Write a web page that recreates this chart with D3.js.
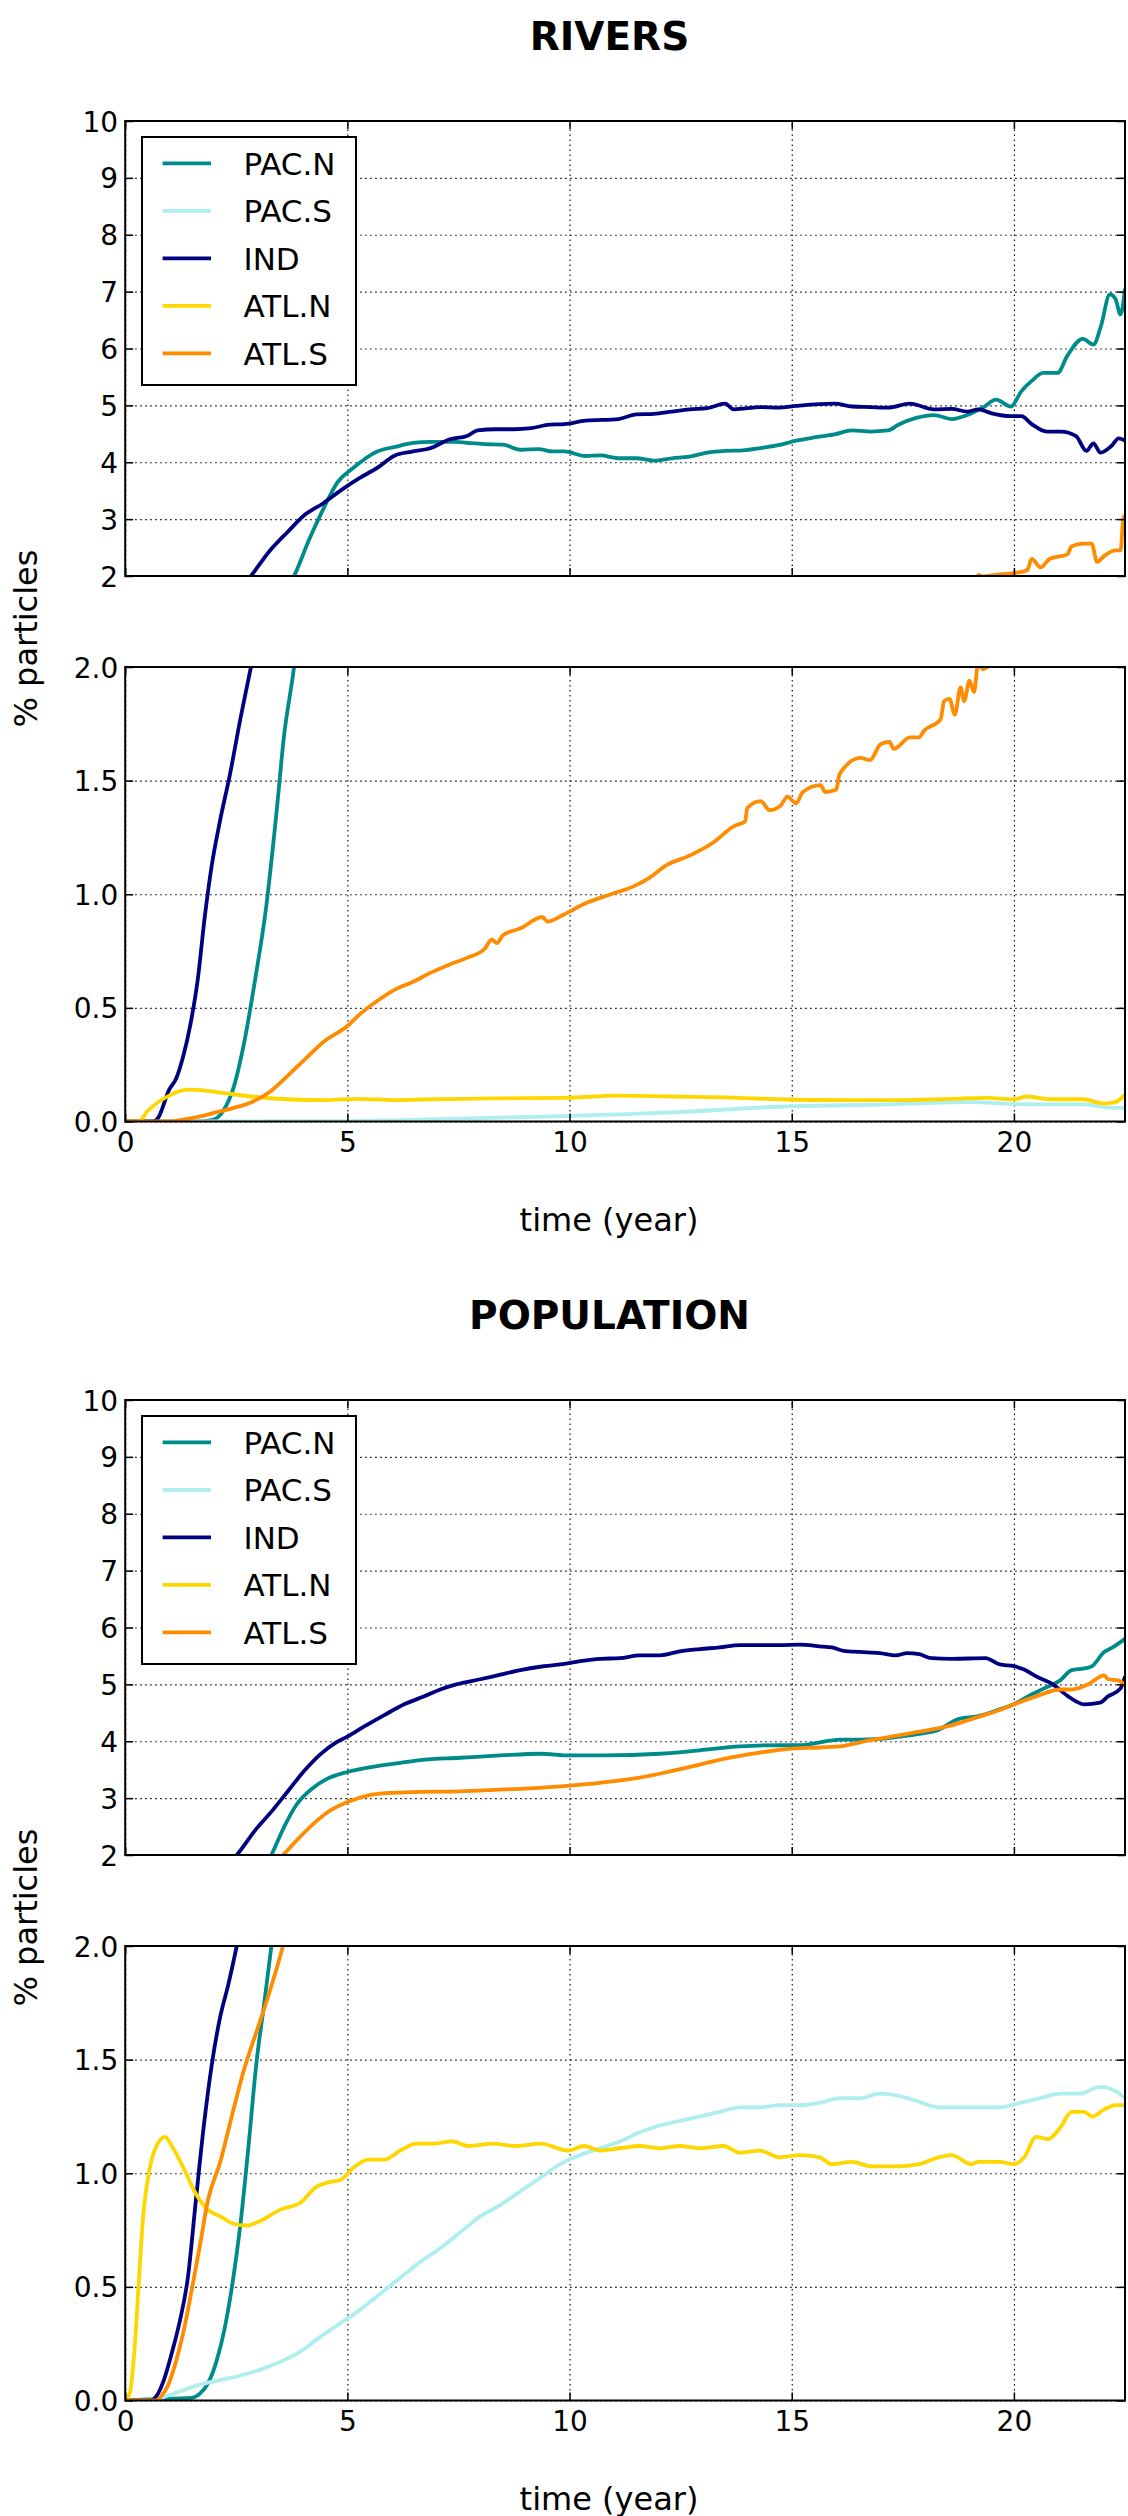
<!DOCTYPE html>
<meta charset="utf-8">
<head>
<style>
body { margin: 0; background: #fff; }
svg { display: block; font-family: "DejaVu Sans", sans-serif; }
.grid line { stroke: #000; stroke-width: 1.1; stroke-dasharray: 1.5,3.5; }
.grid path, .ticks path { display: none; }
.ticks line { stroke: #000; stroke-width: 1.5; }
.ticks text { font-size: 28px; fill: #000; font-family: "DejaVu Sans", sans-serif; }
</style>
</head>
<body>
<svg width="1128" height="2516"></svg>

<script src="https://d3js.org/d3.v7.min.js"></script>
<script>
// series: [time (year), % particles]
var seriesNames = ["PAC.N", "PAC.S", "IND", "ATL.N", "ATL.S"];
var xTicks = [0, 5, 10, 15, 20];
var upperTicks = [2, 3, 4, 5, 6, 7, 8, 9, 10];
var lowerTicks = [0, 0.5, 1.0, 1.5, 2.0];

var riversPacN = [[0,0],[1.6,0],[1.95,0.006],[2.2,0.045],[2.44,0.15],[2.68,0.35],[2.92,0.62],[3.17,0.94],[3.41,1.37],[3.57,1.69],[3.8,2.0],[4.14,2.64],[4.46,3.18],[4.78,3.65],[5.1,3.88],[5.67,4.19],[6.07,4.27],[6.48,4.34],[6.88,4.36],[7.45,4.36],[7.69,4.34],[8.09,4.32],[8.5,4.31],[8.9,4.22],[9.3,4.23],[9.63,4.19],[9.88,4.19],[10.36,4.11],[10.7,4.12],[11.1,4.07],[11.5,4.07],[11.9,4.03],[12.3,4.07],[12.7,4.1],[13.1,4.17],[13.5,4.2],[13.9,4.21],[14.3,4.25],[14.7,4.3],[15.1,4.38],[15.55,4.44],[15.96,4.49],[16.36,4.56],[16.77,4.54],[17.17,4.56],[17.4,4.66],[17.8,4.78],[18.2,4.83],[18.6,4.76],[18.95,4.83],[19.3,4.96],[19.6,5.1],[19.93,4.98],[20.17,5.25],[20.4,5.43],[20.66,5.57],[20.98,5.57],[21.2,5.87],[21.55,6.17],[21.79,6.07],[21.95,6.37],[22.16,6.95],[22.28,6.88],[22.4,6.6],[22.5,7.05]];
var riversPacS = [[0,0],[5,0.002],[7.5,0.012],[9.86,0.024],[12.3,0.04],[14.7,0.065],[17.2,0.075],[19.0,0.085],[20.4,0.075],[21.55,0.075],[22.2,0.06],[22.5,0.06]];
var riversInd = [[0,0],[0.62,0],[0.74,0.016],[0.99,0.14],[1.15,0.19],[1.31,0.29],[1.47,0.43],[1.63,0.62],[1.79,0.9],[1.95,1.13],[2.12,1.31],[2.36,1.53],[2.6,1.78],[2.83,2.0],[3.25,2.44],[3.65,2.77],[4.05,3.08],[4.46,3.28],[4.86,3.51],[5.27,3.72],[5.67,3.9],[6.07,4.12],[6.48,4.19],[6.88,4.25],[7.29,4.4],[7.69,4.46],[7.93,4.56],[8.33,4.58],[8.74,4.58],[9.14,4.6],[9.55,4.66],[9.88,4.67],[10.36,4.73],[11.1,4.76],[11.5,4.84],[11.9,4.85],[12.3,4.89],[12.7,4.93],[13.1,4.95],[13.5,5.03],[13.7,4.93],[14.3,4.97],[14.7,4.96],[15.1,4.99],[15.96,5.03],[16.36,4.98],[16.77,4.97],[17.17,4.96],[17.66,5.03],[18.2,4.93],[18.6,4.94],[18.95,4.89],[19.2,4.93],[19.5,4.86],[19.93,4.81],[20.17,4.81],[20.4,4.67],[20.74,4.54],[21.06,4.54],[21.4,4.46],[21.63,4.2],[21.79,4.33],[21.95,4.17],[22.2,4.29],[22.36,4.42],[22.5,4.38]];
var riversAtlN = [[0,0],[0.3,0],[0.5,0.045],[0.74,0.085],[0.99,0.114],[1.23,0.134],[1.47,0.14],[1.87,0.134],[2.28,0.124],[2.84,0.11],[3.65,0.098],[4.46,0.094],[5.27,0.1],[6.07,0.094],[6.88,0.098],[7.69,0.1],[8.5,0.102],[9.86,0.104],[11.1,0.114],[12.3,0.11],[13.5,0.106],[14.7,0.098],[16.2,0.094],[17.2,0.094],[18.6,0.1],[19.4,0.104],[20.0,0.098],[20.3,0.11],[20.8,0.098],[21.55,0.098],[22.03,0.079],[22.28,0.085],[22.5,0.118]];
var riversAtlS = [[0,0],[1.0,0],[1.23,0.006],[1.63,0.02],[2.04,0.04],[2.44,0.06],[2.84,0.085],[3.25,0.13],[3.65,0.2],[4.05,0.275],[4.46,0.35],[5.0,0.42],[5.27,0.47],[5.67,0.53],[6.07,0.58],[6.48,0.615],[6.88,0.655],[7.29,0.69],[7.69,0.72],[8.09,0.76],[8.25,0.8],[8.37,0.785],[8.5,0.82],[8.9,0.85],[9.39,0.9],[9.5,0.88],[9.86,0.91],[10.36,0.96],[10.93,1.0],[11.5,1.04],[11.78,1.07],[12.2,1.13],[12.7,1.17],[13.25,1.23],[13.7,1.3],[13.95,1.32],[14.0,1.38],[14.3,1.41],[14.5,1.37],[14.75,1.39],[14.9,1.43],[15.1,1.4],[15.25,1.45],[15.65,1.48],[15.75,1.45],[16.0,1.46],[16.08,1.53],[16.55,1.6],[16.76,1.59],[17.0,1.66],[17.2,1.67],[17.3,1.64],[17.66,1.69],[17.86,1.69],[17.98,1.72],[18.35,1.77],[18.43,1.85],[18.55,1.86],[18.67,1.79],[18.8,1.91],[18.88,1.85],[19.0,1.94],[19.1,1.89],[19.2,2.02],[19.3,1.99],[19.4,2.0],[19.6,2.02],[20.0,2.05],[20.3,2.1],[20.4,2.3],[20.6,2.15],[20.8,2.3],[21.2,2.38],[21.3,2.52],[21.55,2.57],[21.75,2.57],[21.87,2.25],[22.03,2.35],[22.28,2.45],[22.4,2.45],[22.47,3.05],[22.5,3.05]];

var popPacN = [[0,0],[0.5,0.005],[1.5,0.012],[1.68,0.03],[1.86,0.074],[2.05,0.17],[2.23,0.31],[2.41,0.51],[2.59,0.77],[2.77,1.11],[2.95,1.48],[3.13,1.75],[3.29,2.0],[3.58,2.5],[3.85,2.88],[4.21,3.17],[4.52,3.33],[5.0,3.46],[5.56,3.55],[6.19,3.62],[6.64,3.67],[7.54,3.71],[8.44,3.75],[9.34,3.78],[10.0,3.75],[10.77,3.75],[12.03,3.78],[12.93,3.84],[13.83,3.91],[14.73,3.93],[15.18,3.93],[15.63,3.98],[16.08,4.03],[16.53,4.03],[16.98,4.04],[17.42,4.08],[17.87,4.13],[18.3,4.2],[18.75,4.39],[19.2,4.44],[19.68,4.56],[20.0,4.65],[20.32,4.79],[20.68,4.93],[21.04,5.07],[21.3,5.25],[21.58,5.28],[21.76,5.32],[22.03,5.57],[22.2,5.64],[22.5,5.8]];
var popPacS = [[0,0],[0.6,0],[0.78,0.01],[1.23,0.04],[1.68,0.07],[2.14,0.09],[2.59,0.11],[3.04,0.136],[3.49,0.17],[3.94,0.215],[4.39,0.28],[4.84,0.34],[5.29,0.4],[5.74,0.47],[6.19,0.54],[6.64,0.61],[7.09,0.67],[7.54,0.74],[7.99,0.81],[8.44,0.86],[8.89,0.92],[9.34,0.98],[9.79,1.04],[10.24,1.08],[10.69,1.11],[11.13,1.14],[11.58,1.18],[12.03,1.21],[12.48,1.23],[12.93,1.25],[13.38,1.27],[13.83,1.29],[14.28,1.29],[14.73,1.3],[15.18,1.3],[15.63,1.31],[16.08,1.33],[16.53,1.33],[16.98,1.35],[17.42,1.34],[17.78,1.32],[18.3,1.29],[18.75,1.29],[19.2,1.29],[19.68,1.29],[20.14,1.31],[20.59,1.33],[21.04,1.35],[21.49,1.35],[21.94,1.38],[22.3,1.36],[22.5,1.33]];
var popInd = [[0,0],[0.56,0],[0.69,0.016],[0.87,0.09],[1.05,0.21],[1.23,0.35],[1.41,0.54],[1.59,0.88],[1.77,1.21],[1.95,1.48],[2.14,1.69],[2.32,1.83],[2.51,2.0],[2.95,2.46],[3.31,2.78],[3.67,3.13],[4.03,3.48],[4.39,3.77],[4.75,3.98],[5.0,4.08],[5.38,4.26],[5.83,4.46],[6.28,4.65],[6.73,4.79],[7.09,4.91],[7.45,5.0],[7.99,5.09],[8.44,5.17],[8.89,5.25],[9.34,5.31],[9.79,5.35],[10.24,5.41],[10.69,5.45],[11.13,5.46],[11.58,5.51],[12.03,5.51],[12.48,5.58],[12.93,5.62],[13.38,5.65],[13.83,5.69],[14.28,5.69],[14.73,5.69],[15.18,5.7],[15.63,5.67],[15.9,5.65],[16.17,5.59],[16.53,5.57],[16.98,5.55],[17.34,5.51],[17.6,5.55],[17.87,5.53],[18.15,5.46],[18.6,5.45],[19.36,5.46],[19.68,5.35],[20.0,5.32],[20.23,5.26],[20.5,5.14],[20.86,5.01],[21.22,4.79],[21.58,4.65],[21.94,4.68],[22.12,4.79],[22.4,4.93],[22.5,5.14]];
var popAtlN = [[0,0],[0.1,0.03],[0.2,0.2],[0.3,0.5],[0.4,0.8],[0.55,1.02],[0.68,1.11],[0.9,1.16],[1.05,1.12],[1.32,1.02],[1.59,0.91],[1.86,0.84],[2.14,0.81],[2.41,0.78],[2.72,0.77],[3.04,0.79],[3.49,0.84],[3.94,0.87],[4.3,0.94],[4.57,0.96],[4.84,0.97],[5.11,1.02],[5.47,1.06],[5.83,1.06],[6.19,1.1],[6.55,1.13],[6.91,1.13],[7.36,1.14],[7.72,1.12],[8.26,1.13],[8.8,1.12],[9.34,1.13],[9.97,1.1],[10.33,1.12],[10.69,1.1],[11.13,1.11],[11.58,1.12],[12.03,1.11],[12.48,1.12],[12.93,1.11],[13.47,1.12],[13.83,1.09],[14.28,1.1],[14.73,1.07],[15.18,1.08],[15.63,1.07],[15.9,1.04],[16.35,1.05],[16.8,1.03],[17.33,1.03],[17.87,1.04],[18.3,1.07],[18.6,1.08],[19.04,1.04],[19.2,1.05],[19.68,1.05],[20.0,1.04],[20.23,1.07],[20.5,1.16],[20.77,1.15],[21.04,1.2],[21.3,1.27],[21.58,1.27],[21.76,1.25],[22.03,1.28],[22.3,1.3],[22.5,1.3]];
var popAtlS = [[0,0],[0.7,0],[0.78,0.012],[0.96,0.065],[1.14,0.17],[1.32,0.31],[1.5,0.49],[1.68,0.68],[1.86,0.88],[2.14,1.05],[2.41,1.26],[2.68,1.46],[2.95,1.62],[3.22,1.78],[3.55,2.0],[3.85,2.25],[4.21,2.53],[4.57,2.76],[5.0,2.93],[5.47,3.05],[5.92,3.09],[6.64,3.11],[7.54,3.12],[8.44,3.15],[9.32,3.18],[10.0,3.22],[10.68,3.27],[11.58,3.36],[12.21,3.46],[12.93,3.59],[13.47,3.69],[14.28,3.8],[15.0,3.87],[15.63,3.89],[16.17,3.92],[16.71,4.01],[17.24,4.08],[17.87,4.17],[18.5,4.26],[19.04,4.39],[19.68,4.55],[20.0,4.65],[20.5,4.79],[21.04,4.91],[21.3,4.91],[21.67,5.0],[22.03,5.16],[22.12,5.09],[22.35,5.07],[22.5,4.98]];

var colors = ["#008b8b", "#afeeee", "#000080", "#ffd700", "#ff8c00"];

var svg = d3.select("svg"),
    left = 125.2, right = 1125;

var x = d3.scaleLinear().domain([0, 22.5]).range([left, right]);

var figures = [
  {title: "RIVERS", dy: 0, series: [riversPacN, riversPacS, riversInd, riversAtlN, riversAtlS]},
  {title: "POPULATION", dy: 1279, series: [popPacN, popPacS, popInd, popAtlN, popAtlS]}
];

figures.forEach(function(f, fi) {
  var g = svg.append("g").attr("transform", "translate(0," + f.dy + ")");

  g.append("text")
      .attr("x", 609.5).attr("y", 49.5)
      .attr("text-anchor", "middle")
      .attr("font-size", 39).attr("font-weight", "bold")
      .text(f.title);

  panel(g, "clip" + fi + "a", 121, 576, [2, 10], upperTicks, d3.format("d"), false, f.series, true);
  panel(g, "clip" + fi + "b", 667, 1121.5, [0, 2], lowerTicks, d3.format(".1f"), true, f.series, false);

  g.append("text")
      .attr("x", 609).attr("y", 1230.5)
      .attr("text-anchor", "middle")
      .attr("font-size", 32)
      .text("time (year)");

  g.append("text")
      .attr("transform", "translate(36.5,638.5) rotate(-90)")
      .attr("text-anchor", "middle")
      .attr("font-size", 32)
      .text("% particles");
});

function panel(g, id, top, bottom, domain, ticks, fmt, showX, series, withLegend) {
  var y = d3.scaleLinear().domain(domain).range([bottom, top]);

  g.append("clipPath").attr("id", id)
    .append("rect")
      .attr("x", left).attr("y", top)
      .attr("width", right - left).attr("height", bottom - top);

  g.append("g")             //vertical grid
      .attr("class", "grid")
      .attr("transform", "translate(0," + bottom + ")")
      .call(d3.axisBottom(x).tickValues(xTicks).tickSize(-(bottom - top)).tickFormat(""));
  g.append("g")             //horizontal grid
      .attr("class", "grid")
      .attr("transform", "translate(" + left + ",0)")
      .call(d3.axisLeft(y).tickValues(ticks).tickSize(-(right - left)).tickFormat(""));

  var line = d3.line()
      .curve(d3.curveMonotoneX)
      .x(function(d) { return x(d[0]); })
      .y(function(d) { return y(d[1]); });

  g.append("g")
      .attr("clip-path", "url(#" + id + ")")
    .selectAll("path")
    .data(series)
    .join("path")
      .attr("fill", "none")
      .attr("stroke", function(d, i) { return colors[i]; })
      .attr("stroke-width", 3.8)
      .attr("stroke-linejoin", "round")
      .attr("d", function(d) { return line(d); });

  // inward ticks on all four sides
  var yl = g.append("g")
      .attr("class", "ticks")
      .attr("transform", "translate(" + left + ",0)")
      .call(d3.axisLeft(y).tickValues(ticks).tickFormat(fmt).tickSizeInner(-8).tickSizeOuter(0).tickPadding(7));
  yl.selectAll("text").attr("dy", "0.36em");
  g.append("g")
      .attr("class", "ticks")
      .attr("transform", "translate(" + right + ",0)")
      .call(d3.axisRight(y).tickValues(ticks).tickFormat("").tickSizeInner(-8).tickSizeOuter(0));
  g.append("g")
      .attr("class", "ticks")
      .attr("transform", "translate(0," + top + ")")
      .call(d3.axisTop(x).tickValues(xTicks).tickFormat("").tickSizeInner(-8).tickSizeOuter(0));
  g.append("g")
      .attr("class", "ticks")
      .attr("transform", "translate(0," + bottom + ")")
      .call(d3.axisBottom(x).tickValues(xTicks).tickFormat(showX ? d3.format("d") : "").tickSizeInner(-8).tickSizeOuter(0).tickPadding(11));

  g.append("rect")
      .attr("x", left).attr("y", top)
      .attr("width", right - left).attr("height", bottom - top)
      .attr("fill", "none").attr("stroke", "#000").attr("stroke-width", 2);

  if (!withLegend) return;

  var lg = g.append("g").attr("transform", "translate(142," + (top + 16) + ")");
  lg.append("rect")
      .attr("width", 214).attr("height", 248)
      .attr("fill", "#fff").attr("stroke", "#000").attr("stroke-width", 2);
  var row = lg.selectAll("g.item")
    .data(seriesNames)
    .join("g")
      .attr("class", "item")
      .attr("transform", function(d, i) { return "translate(0," + (26.4 + 47.5 * i) + ")"; });
  row.append("line")
      .attr("x1", 20.6).attr("x2", 69)
      .attr("stroke", function(d, i) { return colors[i]; })
      .attr("stroke-width", 3.8);
  row.append("text")
      .attr("x", 101.5).attr("dy", "0.365em")
      .attr("font-size", 31)
      .text(function(d) { return d; });
}
</script>

</body>
